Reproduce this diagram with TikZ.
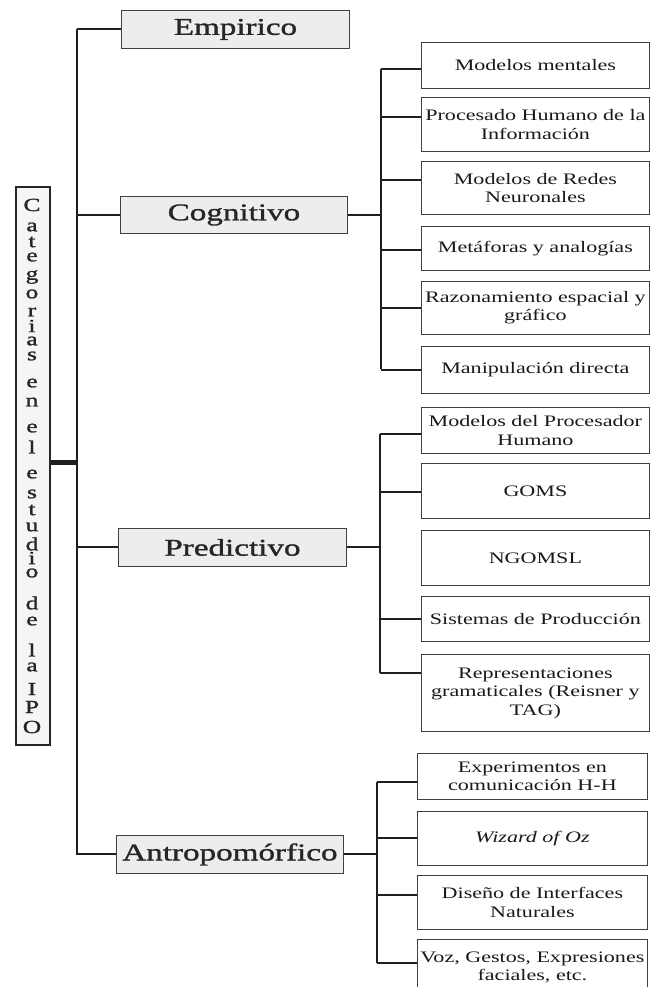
\documentclass[tikz,border=0pt]{standalone}
\usepackage{fontspec}
\setmainfont{Liberation Serif}[FakeStretch=1.38]
\newfontfamily\heavyserif{Liberation Serif}[FakeStretch=1.38, FakeBold=1.3]
\usetikzlibrary{calc}
\tikzset{
  catbox/.style={draw=black!75, line width=0.9pt, fill=black!7, inner sep=0pt,
    anchor=north west, font=\heavyserif\fontsize{24}{26}\selectfont, text=black!85},
  subbox/.style={draw=black!75, line width=0.8pt, fill=white, inner sep=0pt,
    anchor=north west, align=center, font=\fontsize{16}{18.5}\selectfont, text=black!90},
  leftbox/.style={draw=black!85, line width=1.6pt, fill=black!4, inner sep=0pt,
    anchor=north west},
  letter/.style={inner sep=0pt, font=\heavyserif\fontsize{18.5}{18.5}\selectfont, text=black!85},
  trunkline/.style={line width=2.4pt, draw=black!88},
  branch/.style={line width=2pt, draw=black!88},
  thickline/.style={line width=5pt, draw=black!88},
}
\begin{document}
\begin{tikzpicture}[x=1pt,y=-1pt]
\useasboundingbox (0,0) rectangle (659,987);
\fill[white] (0,0) rectangle (659,987);
\clip (0,0) rectangle (659,987);

% left vertical title box
\node[leftbox, minimum width=34pt, minimum height=558pt] (lb) at (15,186) {};
\foreach \c/\y in {C/205, a/227, t/242, e/257, g/277, o/294, r/312, i/326, a/341, s/356,
                   e/383, n/402, e/428, l/447,
                   e/474, s/494, t/510, u/527, d/544, i/558, o/573,
                   d/603, e/621, l/650, a/667, I/689, P/707, O/727}
  \node[letter] (l\y) at (32,\y) {\c};

% category boxes
\node[catbox, minimum width=228pt, minimum height=38pt] (emp) at (121,10) {Empirico};
\node[catbox, minimum width=227pt, minimum height=37pt] (cog) at (120,196) {Cognitivo};
\node[catbox, minimum width=228pt, minimum height=38pt] (pre) at (118,528) {Predictivo};
\node[catbox, minimum width=227pt, minimum height=38pt] (ant) at (116,835) {Antropomórfico};

% trunk
\coordinate (t1) at (77,29);
\coordinate (t2) at (77,855);
\draw[trunkline] (t1) -- (t2);
\draw[thickline] ([yshift=3pt]lb.east) -- ([yshift=3pt]lb.east -| t1);
\draw[branch] (emp.west) -- (emp.west -| t1);
\draw[branch] (cog.west) -- (cog.west -| t1);
\draw[branch] (pre.west) -- (pre.west -| t1);
\draw[branch] (ant.west) -- (ant.west -| t1);

% Cognitivo children
\node[subbox, minimum width=228pt, minimum height=46pt] (c1) at (421,42) {Modelos mentales};
\node[subbox, minimum width=228pt, minimum height=54pt] (c2) at (421,97) {Procesado Humano de la\\Información};
\node[subbox, minimum width=228pt, minimum height=53pt] (c3) at (421,161) {Modelos de Redes\\Neuronales};
\node[subbox, minimum width=228pt, minimum height=44pt] (c4) at (421,226) {Metáforas y analogías};
\node[subbox, minimum width=228pt, minimum height=53pt] (c5) at (421,281) {Razonamiento espacial y\\gráfico};
\node[subbox, minimum width=228pt, minimum height=47pt] (c6) at (421,346) {Manipulación directa};
\coordinate (cb1) at (381,69);
\coordinate (cb2) at (381,369);
\draw[trunkline] (cb1) -- (cb2);
\draw[branch] (cog.east) -- (cog.east -| cb1);
\draw[branch] ([yshift=-4pt]c1.west) -- ([yshift=-4pt]c1.west -| cb1);
\draw[branch] ([yshift=7pt]c2.west) -- ([yshift=7pt]c2.west -| cb1);
\draw[branch] ([yshift=7.5pt]c3.west) -- ([yshift=7.5pt]c3.west -| cb1);
\draw[branch] ([yshift=-2pt]c4.west) -- ([yshift=-2pt]c4.west -| cb1);
\draw[branch] (c5.west) -- (c5.west -| cb1);
\draw[branch] (c6.west) -- (c6.west -| cb1);

% Predictivo children
\node[subbox, minimum width=228pt, minimum height=46pt] (p1) at (421,407) {Modelos del Procesador\\Humano};
\node[subbox, minimum width=228pt, minimum height=55pt] (p2) at (421,463) {GOMS};
\node[subbox, minimum width=228pt, minimum height=55pt] (p3) at (421,530) {NGOMSL};
\node[subbox, minimum width=228pt, minimum height=45pt] (p4) at (421,596) {Sistemas de Producción};
\node[subbox, minimum width=228pt, minimum height=77pt] (p5) at (421,654) {Representaciones\\gramaticales (Reisner y\\TAG)};
\coordinate (pb1) at (380,434);
\coordinate (pb2) at (380,673);
\draw[trunkline] (pb1) -- (pb2);
\draw[branch] (pre.east) -- (pre.east -| pb1);
\draw[branch] ([yshift=-4pt]p1.west) -- ([yshift=-4pt]p1.west -| pb1);
\draw[branch] ([yshift=-1.5pt]p2.west) -- ([yshift=-1.5pt]p2.west -| pb1);
\draw[branch] (p4.west) -- (p4.west -| pb1);
\draw[branch] ([yshift=19.5pt]p5.west) -- ([yshift=19.5pt]p5.west -| pb1);

% Antropomorfico children
\node[subbox, minimum width=230pt, minimum height=46pt] (a1) at (417,753) {Experimentos en\\comunicación H-H};
\node[subbox, minimum width=230pt, minimum height=54pt] (a2) at (417,811) {\itshape Wizard of Oz};
\node[subbox, minimum width=230pt, minimum height=54pt] (a3) at (417,875) {Diseño de Interfaces\\Naturales};
\node[subbox, minimum width=230pt, minimum height=56pt] (a4) at (417,939) {Voz, Gestos, Expresiones\\faciales, etc.};
\coordinate (ab1) at (377,782);
\coordinate (ab2) at (377,963);
\draw[trunkline] (ab1) -- (ab2);
\draw[branch] (ant.east) -- (ant.east -| ab1);
\draw[branch] ([yshift=-6pt]a1.west) -- ([yshift=-6pt]a1.west -| ab1);
\draw[branch] (a2.west) -- (a2.west -| ab1);
\draw[branch] ([yshift=7pt]a3.west) -- ([yshift=7pt]a3.west -| ab1);
\draw[branch] ([yshift=4pt]a4.west) -- ([yshift=4pt]a4.west -| ab1);
\end{tikzpicture}
\end{document}
